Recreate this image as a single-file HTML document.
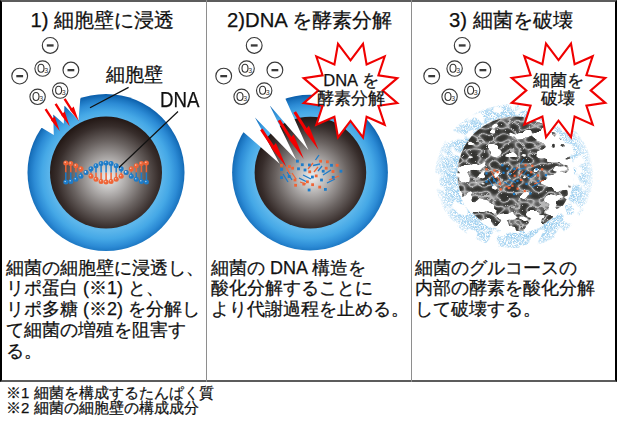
<!DOCTYPE html>
<html lang="ja"><head><meta charset="utf-8">
<style>
html,body{margin:0;padding:0;background:#fff;}
body{width:617px;height:425px;position:relative;overflow:hidden;font-family:"Liberation Sans",sans-serif;color:#111;}
.box{position:absolute;left:0;top:0;width:613px;height:378px;border-left:2px solid #000;border-right:2px solid #000;border-top:2px solid #5c5c5c;border-bottom:2px solid #5c5c5c;}
.vd{position:absolute;top:0;width:1px;height:382px;background:#8e8e8e;}
.t{position:absolute;white-space:nowrap;-webkit-text-stroke:0.25px #111;}
.title{font-size:20.3px;top:6px;}
.body{font-size:18px;line-height:20.8px;top:257.5px;}
.note{font-size:15px;line-height:15.6px;left:6px;top:384.5px;}
.lab{font-size:19px;}
.st{font-size:16.5px;line-height:17.8px;text-align:center;}
</style></head><body>
<div class="box"></div>
<div class="vd" style="left:206px"></div>
<div class="vd" style="left:411px"></div>
<svg width="617" height="425" viewBox="0 0 617 425" style="position:absolute;left:0;top:0">
<defs>
<radialGradient id="ring1" gradientUnits="userSpaceOnUse" cx="106" cy="175" r="80"><stop offset="0.70" stop-color="#5cb6eb"/><stop offset="0.8" stop-color="#45a8e6"/><stop offset="0.9" stop-color="#2c8bd5"/><stop offset="0.96" stop-color="#1b75c0"/><stop offset="1" stop-color="#0e62ae"/></radialGradient>
<radialGradient id="sph1" gradientUnits="userSpaceOnUse" cx="108" cy="177" r="60"><stop offset="0" stop-color="#f0f0f0"/><stop offset="0.3" stop-color="#aeabaa"/><stop offset="0.6" stop-color="#6a6361"/><stop offset="0.85" stop-color="#372d2b"/><stop offset="1" stop-color="#231815"/></radialGradient>
<radialGradient id="ring2" gradientUnits="userSpaceOnUse" cx="310" cy="175" r="79.5"><stop offset="0.70" stop-color="#5cb6eb"/><stop offset="0.8" stop-color="#45a8e6"/><stop offset="0.9" stop-color="#2c8bd5"/><stop offset="0.96" stop-color="#1b75c0"/><stop offset="1" stop-color="#0e62ae"/></radialGradient>
<radialGradient id="sph2" gradientUnits="userSpaceOnUse" cx="312" cy="177" r="60"><stop offset="0" stop-color="#f0f0f0"/><stop offset="0.3" stop-color="#aeabaa"/><stop offset="0.6" stop-color="#6a6361"/><stop offset="0.85" stop-color="#372d2b"/><stop offset="1" stop-color="#231815"/></radialGradient>
<filter id="maze" x="0" y="0" width="100%" height="100%">
<feTurbulence type="turbulence" baseFrequency="0.09" numOctaves="2" seed="4"/>
<feColorMatrix type="matrix" values="0 0 0 0 0  0 0 0 0 0  0 0 0 0 0  -4 0 0 0 2.2"/>
</filter>
<filter id="tex" x="0" y="0" width="100%" height="100%" color-interpolation-filters="sRGB">
<feTurbulence type="turbulence" baseFrequency="0.1 0.14" numOctaves="1" seed="7" result="n"/>
<feColorMatrix in="n" type="matrix" values="1 0 0 0 0  1 0 0 0 0  1 0 0 0 0  0 0 0 0 1" result="r"/>
<feComponentTransfer in="r"><feFuncR type="table" tableValues="0.72 0.42 0.27 0.22 0.2 0.2 0.2 0.2 0.2 0.2"/><feFuncG type="table" tableValues="0.72 0.42 0.27 0.22 0.2 0.2 0.2 0.2 0.2 0.2"/><feFuncB type="table" tableValues="0.72 0.42 0.26 0.21 0.19 0.19 0.19 0.19 0.19 0.19"/><feFuncA type="linear" slope="0" intercept="1"/></feComponentTransfer>
</filter>
<linearGradient id="hg" x1="0.25" y1="0.25" x2="0.95" y2="0.6"><stop offset="0" stop-color="#000"/><stop offset="0.45" stop-color="#282828"/><stop offset="1" stop-color="#787878"/></linearGradient>
<filter id="holes" x="0" y="0" width="100%" height="100%" color-interpolation-filters="sRGB">
<feTurbulence type="fractalNoise" baseFrequency="0.07 0.1" numOctaves="2" seed="11" result="n0"/>
<feColorMatrix in="n0" type="matrix" values="1 0 0 0 0  0 1 0 0 0  0 0 1 0 0  0 0 0 0 1" result="n"/>
<feGaussianBlur in="SourceGraphic" stdDeviation="6" result="bl"/>
<feComposite in="bl" in2="n" operator="arithmetic" k1="0" k2="1" k3="1" k4="0" result="s"/>
<feColorMatrix in="s" type="matrix" values="0 0 0 0 1  0 0 0 0 1  0 0 0 0 1  30 0 0 0 -22"/>
</filter>
<filter id="halo" x="0" y="0" width="100%" height="100%" color-interpolation-filters="sRGB">
<feTurbulence type="fractalNoise" baseFrequency="1.9" numOctaves="1" seed="3" result="h0"/>
<feColorMatrix in="h0" type="matrix" values="0 0 0 0 0  0 0 0 0 0  0 0 0 0 0  4 0 0 0 -1.4" result="sp"/>
<feTurbulence type="fractalNoise" baseFrequency="0.07" numOctaves="2" seed="21" result="p0"/>
<feColorMatrix in="p0" type="matrix" values="0 0 0 0 0  0 0 0 0 0  0 0 0 0 0  -13 0 0 0 7.9" result="pt"/>
<feComposite in="sp" in2="pt" operator="arithmetic" k1="1" k2="0" k3="0" k4="0" result="m"/>
<feComposite in="SourceGraphic" in2="m" operator="in"/>
</filter>
<radialGradient id="hgrad" gradientUnits="userSpaceOnUse" cx="514" cy="176" r="79"><stop offset="0.7" stop-color="#95cbee"/><stop offset="0.88" stop-color="#b0d8f2"/><stop offset="1" stop-color="#e2f1fb"/></radialGradient>
<clipPath id="c3"><circle cx="515" cy="174" r="57.5"/></clipPath><clipPath id="c3b"><circle cx="515" cy="174" r="59"/></clipPath>
</defs>
<!-- panel 1 -->
<circle cx="106" cy="172.5" r="78.5" fill="url(#ring1)"/>
<circle cx="106" cy="172.4" r="56" fill="url(#sph1)"/>
<polygon fill="#fff" points="42.1,127.9 53.8,135 53.2,114.4 63.8,123.8 64.4,105.6 78.5,120.3 80.3,98.5 82,85 25,85 25,128"/>
<polygon fill="#f40000" points="44.6,109.7 46.6,108.5 52.9,118.3 54.7,116.5 59.7,130.9 51.0,120.2 51.0,119.5"/>
<polygon fill="#f40000" points="54.6,104.4 56.6,103.2 62.9,113.3 64.7,111.5 69.7,126.2 61.0,115.1 61.0,114.5"/>
<polygon fill="#f40000" points="63.6,99.5 65.6,98.3 71.9,108.3 73.7,106.5 78.7,121.1 70.0,110.1 70.0,109.5"/>
<line x1="65.8" y1="162.9" x2="65.8" y2="172.5" stroke="#ef6436" stroke-width="1.5"/>
<line x1="65.8" y1="172.5" x2="65.8" y2="182.1" stroke="#1d7cc9" stroke-width="1.5"/>
<line x1="70.8" y1="163.6" x2="70.8" y2="172.5" stroke="#ef6436" stroke-width="1.5"/>
<line x1="70.8" y1="172.5" x2="70.8" y2="181.4" stroke="#1d7cc9" stroke-width="1.5"/>
<line x1="75.9" y1="165.7" x2="75.9" y2="172.5" stroke="#ef6436" stroke-width="1.5"/>
<line x1="75.9" y1="172.5" x2="75.9" y2="179.3" stroke="#1d7cc9" stroke-width="1.5"/>
<line x1="80.9" y1="168.8" x2="80.9" y2="172.5" stroke="#ef6436" stroke-width="1.5"/>
<line x1="80.9" y1="172.5" x2="80.9" y2="176.2" stroke="#1d7cc9" stroke-width="1.5"/>
<line x1="86.0" y1="172.5" x2="86.0" y2="172.5" stroke="#ef6436" stroke-width="1.5"/>
<line x1="86.0" y1="172.5" x2="86.0" y2="172.5" stroke="#1d7cc9" stroke-width="1.5"/>
<line x1="91.0" y1="176.2" x2="91.0" y2="172.5" stroke="#ef6436" stroke-width="1.5"/>
<line x1="91.0" y1="172.5" x2="91.0" y2="168.8" stroke="#1d7cc9" stroke-width="1.5"/>
<line x1="96.0" y1="179.3" x2="96.0" y2="172.5" stroke="#ef6436" stroke-width="1.5"/>
<line x1="96.0" y1="172.5" x2="96.0" y2="165.7" stroke="#1d7cc9" stroke-width="1.5"/>
<line x1="101.1" y1="181.4" x2="101.1" y2="172.5" stroke="#ef6436" stroke-width="1.5"/>
<line x1="101.1" y1="172.5" x2="101.1" y2="163.6" stroke="#1d7cc9" stroke-width="1.5"/>
<line x1="106.1" y1="182.1" x2="106.1" y2="172.5" stroke="#ef6436" stroke-width="1.5"/>
<line x1="106.1" y1="172.5" x2="106.1" y2="162.9" stroke="#1d7cc9" stroke-width="1.5"/>
<line x1="111.1" y1="181.4" x2="111.1" y2="172.5" stroke="#ef6436" stroke-width="1.5"/>
<line x1="111.1" y1="172.5" x2="111.1" y2="163.6" stroke="#1d7cc9" stroke-width="1.5"/>
<line x1="116.2" y1="179.3" x2="116.2" y2="172.5" stroke="#ef6436" stroke-width="1.5"/>
<line x1="116.2" y1="172.5" x2="116.2" y2="165.7" stroke="#1d7cc9" stroke-width="1.5"/>
<line x1="121.2" y1="176.2" x2="121.2" y2="172.5" stroke="#ef6436" stroke-width="1.5"/>
<line x1="121.2" y1="172.5" x2="121.2" y2="168.8" stroke="#1d7cc9" stroke-width="1.5"/>
<line x1="126.2" y1="172.5" x2="126.2" y2="172.5" stroke="#ef6436" stroke-width="1.5"/>
<line x1="126.2" y1="172.5" x2="126.2" y2="172.5" stroke="#1d7cc9" stroke-width="1.5"/>
<line x1="131.3" y1="168.8" x2="131.3" y2="172.5" stroke="#ef6436" stroke-width="1.5"/>
<line x1="131.3" y1="172.5" x2="131.3" y2="176.2" stroke="#1d7cc9" stroke-width="1.5"/>
<line x1="136.3" y1="165.7" x2="136.3" y2="172.5" stroke="#ef6436" stroke-width="1.5"/>
<line x1="136.3" y1="172.5" x2="136.3" y2="179.3" stroke="#1d7cc9" stroke-width="1.5"/>
<line x1="141.4" y1="163.6" x2="141.4" y2="172.5" stroke="#ef6436" stroke-width="1.5"/>
<line x1="141.4" y1="172.5" x2="141.4" y2="181.4" stroke="#1d7cc9" stroke-width="1.5"/>
<line x1="146.4" y1="162.9" x2="146.4" y2="172.5" stroke="#ef6436" stroke-width="1.5"/>
<line x1="146.4" y1="172.5" x2="146.4" y2="182.1" stroke="#1d7cc9" stroke-width="1.5"/>
<circle cx="65.8" cy="162.9" r="2.5" fill="#ef6436"/><circle cx="65.8" cy="182.1" r="2.5" fill="#1d7cc9"/>
<circle cx="65.2" cy="162.3" r="0.8" fill="#fff" opacity="0.6"/><circle cx="65.2" cy="181.5" r="0.8" fill="#fff" opacity="0.6"/>
<circle cx="70.8" cy="163.6" r="2.5" fill="#ef6436"/><circle cx="70.8" cy="181.4" r="2.5" fill="#1d7cc9"/>
<circle cx="70.2" cy="163.0" r="0.8" fill="#fff" opacity="0.6"/><circle cx="70.2" cy="180.8" r="0.8" fill="#fff" opacity="0.6"/>
<circle cx="75.9" cy="165.7" r="2.5" fill="#ef6436"/><circle cx="75.9" cy="179.3" r="2.5" fill="#1d7cc9"/>
<circle cx="75.3" cy="165.1" r="0.8" fill="#fff" opacity="0.6"/><circle cx="75.3" cy="178.7" r="0.8" fill="#fff" opacity="0.6"/>
<circle cx="80.9" cy="168.8" r="2.5" fill="#ef6436"/><circle cx="80.9" cy="176.2" r="2.5" fill="#1d7cc9"/>
<circle cx="80.3" cy="168.2" r="0.8" fill="#fff" opacity="0.6"/><circle cx="80.3" cy="175.6" r="0.8" fill="#fff" opacity="0.6"/>
<circle cx="86.0" cy="172.5" r="2.5" fill="#ef6436"/><circle cx="86.0" cy="172.5" r="2.5" fill="#1d7cc9"/>
<circle cx="85.4" cy="171.9" r="0.8" fill="#fff" opacity="0.6"/><circle cx="85.4" cy="171.9" r="0.8" fill="#fff" opacity="0.6"/>
<circle cx="91.0" cy="176.2" r="2.5" fill="#ef6436"/><circle cx="91.0" cy="168.8" r="2.5" fill="#1d7cc9"/>
<circle cx="90.4" cy="175.6" r="0.8" fill="#fff" opacity="0.6"/><circle cx="90.4" cy="168.2" r="0.8" fill="#fff" opacity="0.6"/>
<circle cx="96.0" cy="179.3" r="2.5" fill="#ef6436"/><circle cx="96.0" cy="165.7" r="2.5" fill="#1d7cc9"/>
<circle cx="95.4" cy="178.7" r="0.8" fill="#fff" opacity="0.6"/><circle cx="95.4" cy="165.1" r="0.8" fill="#fff" opacity="0.6"/>
<circle cx="101.1" cy="181.4" r="2.5" fill="#ef6436"/><circle cx="101.1" cy="163.6" r="2.5" fill="#1d7cc9"/>
<circle cx="100.5" cy="180.8" r="0.8" fill="#fff" opacity="0.6"/><circle cx="100.5" cy="163.0" r="0.8" fill="#fff" opacity="0.6"/>
<circle cx="106.1" cy="182.1" r="2.5" fill="#ef6436"/><circle cx="106.1" cy="162.9" r="2.5" fill="#1d7cc9"/>
<circle cx="105.5" cy="181.5" r="0.8" fill="#fff" opacity="0.6"/><circle cx="105.5" cy="162.3" r="0.8" fill="#fff" opacity="0.6"/>
<circle cx="111.1" cy="181.4" r="2.5" fill="#ef6436"/><circle cx="111.1" cy="163.6" r="2.5" fill="#1d7cc9"/>
<circle cx="110.5" cy="180.8" r="0.8" fill="#fff" opacity="0.6"/><circle cx="110.5" cy="163.0" r="0.8" fill="#fff" opacity="0.6"/>
<circle cx="116.2" cy="179.3" r="2.5" fill="#ef6436"/><circle cx="116.2" cy="165.7" r="2.5" fill="#1d7cc9"/>
<circle cx="115.6" cy="178.7" r="0.8" fill="#fff" opacity="0.6"/><circle cx="115.6" cy="165.1" r="0.8" fill="#fff" opacity="0.6"/>
<circle cx="121.2" cy="176.2" r="2.5" fill="#ef6436"/><circle cx="121.2" cy="168.8" r="2.5" fill="#1d7cc9"/>
<circle cx="120.6" cy="175.6" r="0.8" fill="#fff" opacity="0.6"/><circle cx="120.6" cy="168.2" r="0.8" fill="#fff" opacity="0.6"/>
<circle cx="126.2" cy="172.5" r="2.5" fill="#ef6436"/><circle cx="126.2" cy="172.5" r="2.5" fill="#1d7cc9"/>
<circle cx="125.7" cy="171.9" r="0.8" fill="#fff" opacity="0.6"/><circle cx="125.7" cy="171.9" r="0.8" fill="#fff" opacity="0.6"/>
<circle cx="131.3" cy="168.8" r="2.5" fill="#ef6436"/><circle cx="131.3" cy="176.2" r="2.5" fill="#1d7cc9"/>
<circle cx="130.7" cy="168.2" r="0.8" fill="#fff" opacity="0.6"/><circle cx="130.7" cy="175.6" r="0.8" fill="#fff" opacity="0.6"/>
<circle cx="136.3" cy="165.7" r="2.5" fill="#ef6436"/><circle cx="136.3" cy="179.3" r="2.5" fill="#1d7cc9"/>
<circle cx="135.7" cy="165.1" r="0.8" fill="#fff" opacity="0.6"/><circle cx="135.7" cy="178.7" r="0.8" fill="#fff" opacity="0.6"/>
<circle cx="141.4" cy="163.6" r="2.5" fill="#ef6436"/><circle cx="141.4" cy="181.4" r="2.5" fill="#1d7cc9"/>
<circle cx="140.8" cy="163.0" r="0.8" fill="#fff" opacity="0.6"/><circle cx="140.8" cy="180.8" r="0.8" fill="#fff" opacity="0.6"/>
<circle cx="146.4" cy="162.9" r="2.5" fill="#ef6436"/><circle cx="146.4" cy="182.1" r="2.5" fill="#1d7cc9"/>
<circle cx="145.8" cy="162.3" r="0.8" fill="#fff" opacity="0.6"/><circle cx="145.8" cy="181.5" r="0.8" fill="#fff" opacity="0.6"/>
<line x1="128.6" y1="87.4" x2="90" y2="107.7" stroke="#111" stroke-width="1.2"/>
<line x1="178" y1="111.5" x2="119" y2="167.5" stroke="#111" stroke-width="1.2"/>
<circle cx="50.2" cy="45.4" r="7.9" fill="#fff" stroke="#3a3a3a" stroke-width="1.15"/><rect x="46.8" y="44.3" width="6.8" height="2.3" fill="#3a3a3a"/>
<circle cx="70.9" cy="70.1" r="7.9" fill="#fff" stroke="#3a3a3a" stroke-width="1.15"/><rect x="67.5" y="69.0" width="6.8" height="2.3" fill="#3a3a3a"/>
<circle cx="19.7" cy="76.1" r="7.9" fill="#fff" stroke="#3a3a3a" stroke-width="1.15"/><rect x="16.3" y="75.0" width="6.8" height="2.3" fill="#3a3a3a"/>
<circle cx="42.6" cy="68.6" r="7.7" fill="#fff" stroke="#3a3a3a" stroke-width="1.1"/><ellipse cx="41.0" cy="68.3" rx="3.0" ry="4.0" fill="none" stroke="#333" stroke-width="1.1"/><text x="44.2" y="72.9" font-size="7" fill="#333">3</text>
<circle cx="37.6" cy="96.8" r="7.7" fill="#fff" stroke="#3a3a3a" stroke-width="1.1"/><ellipse cx="36.0" cy="96.5" rx="3.0" ry="4.0" fill="none" stroke="#333" stroke-width="1.1"/><text x="39.2" y="101.1" font-size="7" fill="#333">3</text>
<circle cx="60.2" cy="90.6" r="7.7" fill="#fff" stroke="#3a3a3a" stroke-width="1.1"/><ellipse cx="58.6" cy="90.3" rx="3.0" ry="4.0" fill="none" stroke="#333" stroke-width="1.1"/><text x="61.8" y="94.9" font-size="7" fill="#333">3</text>
<!-- panel 2 -->
<circle cx="310" cy="172.6" r="77.9" fill="url(#ring2)"/>
<circle cx="310.4" cy="172.6" r="55.8" fill="url(#sph2)"/>
<polygon fill="#fff" points="243.6,132.2 279.7,163.8 255,117.4 296.2,159.7 269.8,105.4 308.5,150.3 285.3,98.4 290,80 225,80 225,132"/>
<polygon fill="#f40000" points="260.1,130.2 262.5,128.6 273.8,145.4 275.9,142.9 286.2,166.8 271.4,148.1 271.3,147.1"/>
<polygon fill="#f40000" points="277.7,121.0 280.3,119.4 291.4,136.9 293.6,134.4 303.8,159.1 289.0,139.5 288.9,138.5"/>
<polygon fill="#f40000" points="293.4,112.8 296.0,111.2 306.7,128.2 308.9,125.7 318.5,149.7 304.2,130.8 304.1,129.8"/>
<line x1="315.5" y1="160.0" x2="319.0" y2="155.0" stroke="#1d7cc9" stroke-width="1.3"/>
<line x1="313.0" y1="165.5" x2="320.0" y2="164.0" stroke="#1d7cc9" stroke-width="1.3"/>
<line x1="303.0" y1="175.0" x2="311.0" y2="179.0" stroke="#1d7cc9" stroke-width="1.3"/>
<line x1="299.0" y1="178.0" x2="306.0" y2="181.5" stroke="#1d7cc9" stroke-width="1.3"/>
<line x1="323.0" y1="175.0" x2="331.0" y2="170.0" stroke="#1d7cc9" stroke-width="1.3"/>
<line x1="327.0" y1="183.0" x2="335.0" y2="179.0" stroke="#1d7cc9" stroke-width="1.3"/>
<line x1="287.0" y1="172.0" x2="292.0" y2="180.0" stroke="#1d7cc9" stroke-width="1.3"/>
<line x1="283.0" y1="174.0" x2="288.0" y2="182.0" stroke="#1d7cc9" stroke-width="1.3"/>
<line x1="318.0" y1="171.0" x2="322.0" y2="166.0" stroke="#1d7cc9" stroke-width="1.3"/>
<line x1="308.0" y1="169.0" x2="313.0" y2="163.0" stroke="#ef6436" stroke-width="1.3"/>
<line x1="314.0" y1="172.0" x2="318.0" y2="167.0" stroke="#ef6436" stroke-width="1.3"/>
<line x1="286.0" y1="167.0" x2="290.0" y2="174.0" stroke="#ef6436" stroke-width="1.3"/>
<line x1="300.0" y1="182.0" x2="306.0" y2="184.0" stroke="#ef6436" stroke-width="1.3"/>
<line x1="329.0" y1="180.0" x2="339.0" y2="176.0" stroke="#ef6436" stroke-width="1.3"/>
<line x1="292.0" y1="173.0" x2="296.0" y2="179.0" stroke="#ef6436" stroke-width="1.3"/>
<rect x="296.0" y="159.8" width="2.8" height="2.8" fill="#1d7cc9"/>
<rect x="300.9" y="163.3" width="2.8" height="2.8" fill="#1d7cc9"/>
<rect x="308.0" y="163.6" width="2.8" height="2.8" fill="#1d7cc9"/>
<rect x="297.1" y="167.4" width="2.8" height="2.8" fill="#1d7cc9"/>
<rect x="303.6" y="168.6" width="2.8" height="2.8" fill="#1d7cc9"/>
<rect x="280.1" y="168.0" width="2.8" height="2.8" fill="#1d7cc9"/>
<rect x="280.1" y="176.2" width="2.8" height="2.8" fill="#1d7cc9"/>
<rect x="287.7" y="175.1" width="2.8" height="2.8" fill="#1d7cc9"/>
<rect x="311.0" y="175.6" width="2.8" height="2.8" fill="#1d7cc9"/>
<rect x="320.1" y="178.6" width="2.8" height="2.8" fill="#1d7cc9"/>
<rect x="321.8" y="169.8" width="2.8" height="2.8" fill="#1d7cc9"/>
<rect x="330.1" y="163.9" width="2.8" height="2.8" fill="#1d7cc9"/>
<rect x="331.8" y="175.9" width="2.8" height="2.8" fill="#1d7cc9"/>
<rect x="339.5" y="169.8" width="2.8" height="2.8" fill="#1d7cc9"/>
<rect x="307.7" y="188.6" width="2.8" height="2.8" fill="#1d7cc9"/>
<rect x="324.0" y="188.0" width="2.8" height="2.8" fill="#1d7cc9"/>
<rect x="280.1" y="163.9" width="2.8" height="2.8" fill="#ef6436"/>
<rect x="288.0" y="165.1" width="2.8" height="2.8" fill="#ef6436"/>
<rect x="291.2" y="166.8" width="2.8" height="2.8" fill="#ef6436"/>
<rect x="319.2" y="159.8" width="2.8" height="2.8" fill="#ef6436"/>
<rect x="326.0" y="160.4" width="2.8" height="2.8" fill="#ef6436"/>
<rect x="335.7" y="163.9" width="2.8" height="2.8" fill="#ef6436"/>
<rect x="324.8" y="166.8" width="2.8" height="2.8" fill="#ef6436"/>
<rect x="331.6" y="170.1" width="2.8" height="2.8" fill="#ef6436"/>
<rect x="308.3" y="170.4" width="2.8" height="2.8" fill="#ef6436"/>
<rect x="314.8" y="174.5" width="2.8" height="2.8" fill="#ef6436"/>
<rect x="293.6" y="178.6" width="2.8" height="2.8" fill="#ef6436"/>
<rect x="302.4" y="182.7" width="2.8" height="2.8" fill="#ef6436"/>
<rect x="306.0" y="180.4" width="2.8" height="2.8" fill="#ef6436"/>
<rect x="311.2" y="183.3" width="2.8" height="2.8" fill="#ef6436"/>
<rect x="294.2" y="183.9" width="2.8" height="2.8" fill="#ef6436"/>
<rect x="318.3" y="185.7" width="2.8" height="2.8" fill="#ef6436"/>
<circle cx="254.2" cy="45.4" r="7.9" fill="#fff" stroke="#3a3a3a" stroke-width="1.15"/><rect x="250.8" y="44.3" width="6.8" height="2.3" fill="#3a3a3a"/>
<circle cx="274.9" cy="70.1" r="7.9" fill="#fff" stroke="#3a3a3a" stroke-width="1.15"/><rect x="271.5" y="69.0" width="6.8" height="2.3" fill="#3a3a3a"/>
<circle cx="223.7" cy="76.1" r="7.9" fill="#fff" stroke="#3a3a3a" stroke-width="1.15"/><rect x="220.3" y="75.0" width="6.8" height="2.3" fill="#3a3a3a"/>
<circle cx="246.6" cy="68.6" r="7.7" fill="#fff" stroke="#3a3a3a" stroke-width="1.1"/><ellipse cx="245.0" cy="68.3" rx="3.0" ry="4.0" fill="none" stroke="#333" stroke-width="1.1"/><text x="248.2" y="72.9" font-size="7" fill="#333">3</text>
<circle cx="241.6" cy="96.8" r="7.7" fill="#fff" stroke="#3a3a3a" stroke-width="1.1"/><ellipse cx="240.0" cy="96.5" rx="3.0" ry="4.0" fill="none" stroke="#333" stroke-width="1.1"/><text x="243.2" y="101.1" font-size="7" fill="#333">3</text>
<circle cx="264.2" cy="90.6" r="7.7" fill="#fff" stroke="#3a3a3a" stroke-width="1.1"/><ellipse cx="262.6" cy="90.3" rx="3.0" ry="4.0" fill="none" stroke="#333" stroke-width="1.1"/><text x="265.8" y="94.9" font-size="7" fill="#333">3</text>
<polygon fill="#fff" stroke="#f00000" stroke-width="2.1" stroke-linejoin="miter" stroke-miterlimit="10" points="350.5,60.3 363.0,43.8 366.6,64.4 384.7,56.4 378.4,75.4 397.3,78.1 382.7,90.6 397.3,103.1 378.4,105.8 384.7,124.8 366.6,116.8 363.0,137.4 350.5,120.9 338.0,137.4 334.4,116.8 316.3,124.8 322.6,105.8 303.7,103.1 318.3,90.6 303.7,78.1 322.6,75.4 316.3,56.4 334.4,64.4 338.0,43.8"/>
<!-- panel 3 -->
<circle cx="462.2" cy="45.4" r="7.9" fill="#fff" stroke="#3a3a3a" stroke-width="1.15"/><rect x="458.8" y="44.3" width="6.8" height="2.3" fill="#3a3a3a"/>
<circle cx="482.9" cy="70.1" r="7.9" fill="#fff" stroke="#3a3a3a" stroke-width="1.15"/><rect x="479.5" y="69.0" width="6.8" height="2.3" fill="#3a3a3a"/>
<circle cx="431.7" cy="76.1" r="7.9" fill="#fff" stroke="#3a3a3a" stroke-width="1.15"/><rect x="428.3" y="75.0" width="6.8" height="2.3" fill="#3a3a3a"/>
<circle cx="454.6" cy="68.6" r="7.7" fill="#fff" stroke="#3a3a3a" stroke-width="1.1"/><ellipse cx="453.0" cy="68.3" rx="3.0" ry="4.0" fill="none" stroke="#333" stroke-width="1.1"/><text x="456.2" y="72.9" font-size="7" fill="#333">3</text>
<circle cx="449.6" cy="96.8" r="7.7" fill="#fff" stroke="#3a3a3a" stroke-width="1.1"/><ellipse cx="448.0" cy="96.5" rx="3.0" ry="4.0" fill="none" stroke="#333" stroke-width="1.1"/><text x="451.2" y="101.1" font-size="7" fill="#333">3</text>
<circle cx="472.2" cy="90.6" r="7.7" fill="#fff" stroke="#3a3a3a" stroke-width="1.1"/><ellipse cx="470.6" cy="90.3" rx="3.0" ry="4.0" fill="none" stroke="#333" stroke-width="1.1"/><text x="473.8" y="94.9" font-size="7" fill="#333">3</text>
<ellipse cx="514" cy="176" rx="79" ry="72" fill="url(#hgrad)" filter="url(#halo)"/>
<circle cx="515" cy="174" r="57.5" fill="#fff"/>
<g clip-path="url(#c3)">
<rect x="455" y="114" width="120" height="120" filter="url(#tex)"/>
</g>
<g clip-path="url(#c3b)">
<g filter="url(#holes)"><rect x="440" y="100" width="150" height="150" fill="#101010"/>
<ellipse cx="575" cy="182" rx="30" ry="60" fill="#585858"/>
<ellipse cx="540" cy="135" rx="14" ry="18" fill="#505050"/>
<ellipse cx="470" cy="212" rx="24" ry="16" fill="#606060"/>
<ellipse cx="522" cy="228" rx="34" ry="10" fill="#606060"/>
<ellipse cx="470" cy="170" rx="18" ry="8" fill="#606060"/>
<ellipse cx="500" cy="148" rx="14" ry="6" fill="#505050"/>
</g>
</g>
<line x1="520.5" y1="164.0" x2="524.0" y2="159.0" stroke="#1d7cc9" stroke-width="1.0"/>
<line x1="518.0" y1="169.5" x2="525.0" y2="168.0" stroke="#1d7cc9" stroke-width="1.0"/>
<line x1="508.0" y1="179.0" x2="516.0" y2="183.0" stroke="#1d7cc9" stroke-width="1.0"/>
<line x1="504.0" y1="182.0" x2="511.0" y2="185.5" stroke="#1d7cc9" stroke-width="1.0"/>
<line x1="528.0" y1="179.0" x2="536.0" y2="174.0" stroke="#1d7cc9" stroke-width="1.0"/>
<line x1="532.0" y1="187.0" x2="540.0" y2="183.0" stroke="#1d7cc9" stroke-width="1.0"/>
<line x1="492.0" y1="176.0" x2="497.0" y2="184.0" stroke="#1d7cc9" stroke-width="1.0"/>
<line x1="488.0" y1="178.0" x2="493.0" y2="186.0" stroke="#1d7cc9" stroke-width="1.0"/>
<line x1="523.0" y1="175.0" x2="527.0" y2="170.0" stroke="#1d7cc9" stroke-width="1.0"/>
<line x1="513.0" y1="173.0" x2="518.0" y2="167.0" stroke="#ef6436" stroke-width="1.0"/>
<line x1="519.0" y1="176.0" x2="523.0" y2="171.0" stroke="#ef6436" stroke-width="1.0"/>
<line x1="491.0" y1="171.0" x2="495.0" y2="178.0" stroke="#ef6436" stroke-width="1.0"/>
<line x1="505.0" y1="186.0" x2="511.0" y2="188.0" stroke="#ef6436" stroke-width="1.0"/>
<line x1="534.0" y1="184.0" x2="544.0" y2="180.0" stroke="#ef6436" stroke-width="1.0"/>
<line x1="497.0" y1="177.0" x2="501.0" y2="183.0" stroke="#ef6436" stroke-width="1.0"/>
<rect x="501.3" y="164.1" width="2.2" height="2.2" fill="#1d7cc9"/>
<rect x="506.2" y="167.6" width="2.2" height="2.2" fill="#1d7cc9"/>
<rect x="513.3" y="167.9" width="2.2" height="2.2" fill="#1d7cc9"/>
<rect x="502.4" y="171.7" width="2.2" height="2.2" fill="#1d7cc9"/>
<rect x="508.9" y="172.9" width="2.2" height="2.2" fill="#1d7cc9"/>
<rect x="485.4" y="172.3" width="2.2" height="2.2" fill="#1d7cc9"/>
<rect x="485.4" y="180.5" width="2.2" height="2.2" fill="#1d7cc9"/>
<rect x="493.0" y="179.4" width="2.2" height="2.2" fill="#1d7cc9"/>
<rect x="516.3" y="179.9" width="2.2" height="2.2" fill="#1d7cc9"/>
<rect x="525.4" y="182.9" width="2.2" height="2.2" fill="#1d7cc9"/>
<rect x="527.1" y="174.1" width="2.2" height="2.2" fill="#1d7cc9"/>
<rect x="535.4" y="168.2" width="2.2" height="2.2" fill="#1d7cc9"/>
<rect x="537.1" y="180.2" width="2.2" height="2.2" fill="#1d7cc9"/>
<rect x="544.8" y="174.1" width="2.2" height="2.2" fill="#1d7cc9"/>
<rect x="513.0" y="192.9" width="2.2" height="2.2" fill="#1d7cc9"/>
<rect x="529.3" y="192.3" width="2.2" height="2.2" fill="#1d7cc9"/>
<rect x="485.4" y="168.2" width="2.2" height="2.2" fill="#ef6436"/>
<rect x="493.3" y="169.4" width="2.2" height="2.2" fill="#ef6436"/>
<rect x="496.5" y="171.1" width="2.2" height="2.2" fill="#ef6436"/>
<rect x="524.5" y="164.1" width="2.2" height="2.2" fill="#ef6436"/>
<rect x="531.3" y="164.7" width="2.2" height="2.2" fill="#ef6436"/>
<rect x="541.0" y="168.2" width="2.2" height="2.2" fill="#ef6436"/>
<rect x="530.1" y="171.1" width="2.2" height="2.2" fill="#ef6436"/>
<rect x="536.9" y="174.4" width="2.2" height="2.2" fill="#ef6436"/>
<rect x="513.6" y="174.7" width="2.2" height="2.2" fill="#ef6436"/>
<rect x="520.1" y="178.8" width="2.2" height="2.2" fill="#ef6436"/>
<rect x="498.9" y="182.9" width="2.2" height="2.2" fill="#ef6436"/>
<rect x="507.7" y="187.0" width="2.2" height="2.2" fill="#ef6436"/>
<rect x="511.3" y="184.7" width="2.2" height="2.2" fill="#ef6436"/>
<rect x="516.5" y="187.6" width="2.2" height="2.2" fill="#ef6436"/>
<rect x="499.5" y="188.2" width="2.2" height="2.2" fill="#ef6436"/>
<rect x="523.6" y="190.0" width="2.2" height="2.2" fill="#ef6436"/>
<polygon fill="#fff" stroke="#f00000" stroke-width="2.1" stroke-linejoin="miter" stroke-miterlimit="10" points="558.5,60.1 571.0,43.6 574.6,64.2 592.7,56.2 586.4,75.2 605.3,77.9 590.7,90.4 605.3,102.9 586.4,105.6 592.7,124.6 574.6,116.6 571.0,137.2 558.5,120.7 546.0,137.2 542.4,116.6 524.3,124.6 530.6,105.6 511.7,102.9 526.3,90.4 511.7,77.9 530.6,75.2 524.3,56.2 542.4,64.2 546.0,43.6"/>
</svg>
<div class="t title" style="left:30.5px">1) 細胞壁に浸透</div>
<div class="t title" style="left:227px">2)DNA を酵素分解</div>
<div class="t title" style="left:449px">3) 細菌を破壊</div>
<div class="t lab" style="left:106px;top:62px">細胞壁</div>
<div class="t lab" style="left:160px;top:88px;font-size:21.5px;transform:scaleX(0.87);transform-origin:0 0">DNA</div>
<div class="t st" style="left:301px;top:72px;width:100px">DNA を<br>酵素分解</div>
<div class="t st" style="left:508px;top:72px;width:100px">細菌を<br>破壊</div>
<div class="t body" style="left:6px">細菌の細胞壁に浸透し、<br>リポ蛋白 (※1) と、<br>リポ多糖 (※2) を分解し<br>て細菌の増殖を阻害す<br>る。</div>
<div class="t body" style="left:211px">細菌の DNA 構造を<br>酸化分解することに<br>より代謝過程を止める。</div>
<div class="t body" style="left:415px">細菌のグルコースの<br>内部の酵素を酸化分解<br>して破壊する。</div>
<div class="t note">※1 細菌を構成するたんぱく質<br>※2 細菌の細胞壁の構成成分</div>
</body></html>
